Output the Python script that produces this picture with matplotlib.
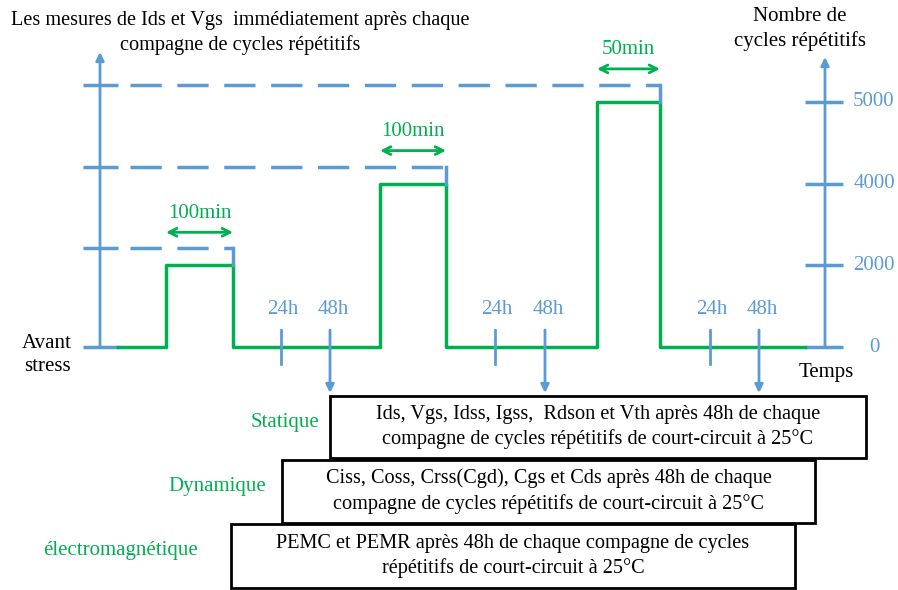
import matplotlib.pyplot as plt
from matplotlib.patches import Rectangle

plt.rcParams['font.family'] = ['Liberation Serif', 'DejaVu Serif']

blue = '#5B9BD5'
green = '#00B050'

# graduations du nombre de cycles (espacement schematique)
cycle_ticks = [0, 2000, 4000, 5000]
# compagnes de cycles repetitifs
cycles = [2000, 4000, 5000]
durations = ['100min', '100min', '50min']
# instants schematiques (axe du temps non gradue)
t_on = [166, 380, 597]
t_off = [233, 446, 660]
t_24h = [281, 495, 710]
t_48h = [330, 545, 759]

# mesures apres 48h
mesures = ['Statique', 'Dynamique', 'électromagnétique']
mesures_txt = ['Ids, Vgs, Idss, Igss,  Rdson et Vth après 48h de chaque\ncompagne de cycles répétitifs de court-circuit à 25°C',
               'Ciss, Coss, Crss(Cgd), Cgs et Cds après 48h de chaque\ncompagne de cycles répétitifs de court-circuit à 25°C',
               'PEMC et PEMR après 48h de chaque compagne de cycles\nrépétitifs de court-circuit à 25°C']

fs = 15
fs_txt = 14.6
y0 = 347
step = 81.7


def yl(c):
    return y0 - step * cycle_ticks.index(c)


fig = plt.figure(figsize=(8.98, 5.90), dpi=100)
ax = fig.add_axes([0, 0, 1, 1])
ax.set_xlim(0, 898)
ax.set_ylim(590, 0)
ax.axis('off')

# axe gauche
ax.annotate('', xy=(100, 52), xytext=(100, y0), arrowprops=dict(arrowstyle='-|>', color=blue, lw=2, mutation_scale=12, shrinkA=0, shrinkB=0))
ax.plot([83, 118], [y0, y0], color=blue, lw=2.5, solid_capstyle='butt')

# axe droit
ax.annotate('', xy=(825, 57), xytext=(825, y0), arrowprops=dict(arrowstyle='-|>', color=blue, lw=2, mutation_scale=12, shrinkA=0, shrinkB=0))
for c in cycle_ticks:
    ax.plot([805, 843], [yl(c), yl(c)], color=blue, lw=2.5, solid_capstyle='butt')
    ax.text(874, yl(c), str(c), color=blue, fontsize=fs, ha='center', va='center')

# signal de stress
xs, ys = [118], [y0]
for on, off, c in zip(t_on, t_off, cycles):
    xs += [on, on, off, off]
    ys += [y0, yl(c), yl(c), y0]
xs.append(805)
ys.append(y0)
ax.plot(xs, ys, color=green, lw=2.5)

for on, off, c, d in zip(t_on, t_off, cycles, durations):
    yd = yl(c) - 17
    ax.plot([83, 118], [yd, yd], color=blue, lw=2.5, solid_capstyle='butt')
    ax.plot([130, off], [yd, yd], color=blue, lw=2.5, dashes=(9, 4.5), solid_capstyle='butt')
    ax.plot([off, off], [yd, yl(c)], color=blue, lw=2.5)
    ya = yd - 16
    ax.annotate('', xy=(on, ya), xytext=(off, ya), arrowprops=dict(arrowstyle='<->', color=green, lw=2, mutation_scale=14, shrinkA=0, shrinkB=0))
    ax.text((on + off) / 2, ya - 19, d, color=green, fontsize=fs, ha='center', va='center')

for a, b in zip(t_24h, t_48h):
    ax.plot([a, a], [330, 364], color=blue, lw=2)
    ax.text(a + 2, 310, '24h', color=blue, fontsize=fs, ha='center', va='center')
    ax.annotate('', xy=(b, 393), xytext=(b, 330), arrowprops=dict(arrowstyle='-|>', color=blue, lw=2, mutation_scale=12, shrinkA=0, shrinkB=0))
    ax.text(b + 3, 310, '48h', color=blue, fontsize=fs, ha='center', va='center')

# textes
ax.text(240, 33, 'Les mesures de Ids et Vgs  immédiatement après chaque\ncompagne de cycles répétitifs', fontsize=fs_txt, ha='center', va='center', linespacing=1.3)
ax.text(800, 29, 'Nombre de\ncycles répétitifs', fontsize=fs, ha='center', va='center', linespacing=1.3)
ax.text(47, 355, 'Avant\nstress', fontsize=fs, ha='center', va='center', linespacing=1.3)
ax.text(826, 373, 'Temps', fontsize=fs, ha='center', va='center')

# cadres des mesures
boxes = [(330, 396, 536, 62), (282, 460, 533, 63), (231, 524, 564, 64)]
lab_pos = [(285, 422), (217, 487), (120, 551)]
for (bx, by, bw, bh), t, lab, (lx, ly) in zip(boxes, mesures_txt, mesures, lab_pos):
    ax.add_patch(Rectangle((bx, by), bw, bh, fill=True, facecolor='white', edgecolor='black', lw=2))
    ax.text(bx + bw / 2, by + bh / 2, t, fontsize=fs_txt, ha='center', va='center', linespacing=1.4)
    ax.text(lx, ly, lab, color=green, fontsize=fs, ha='center', va='center')

fig.savefig('out.png', dpi=100)
